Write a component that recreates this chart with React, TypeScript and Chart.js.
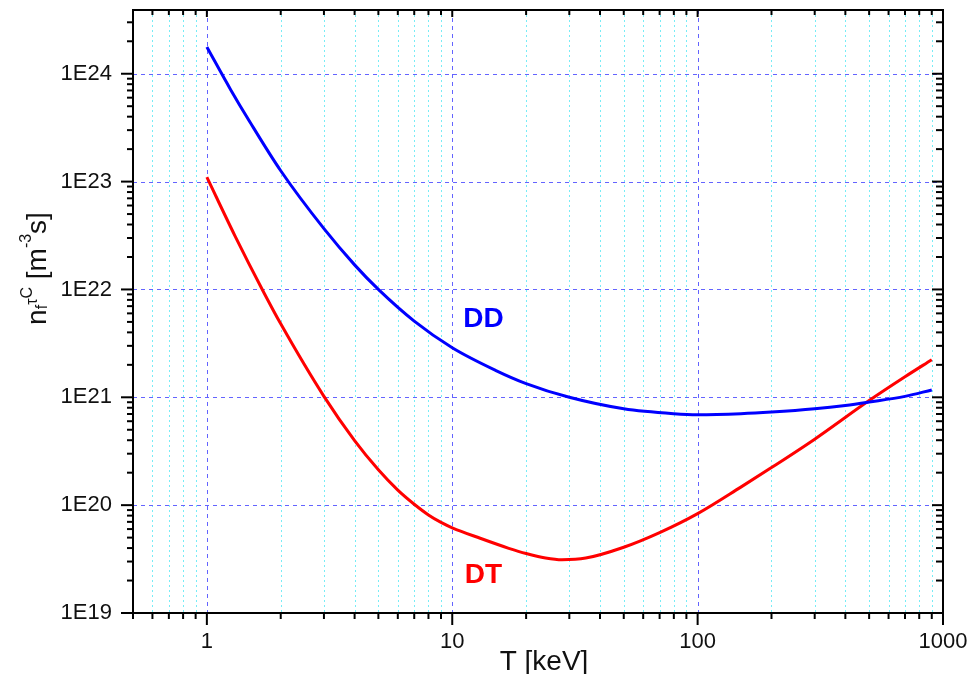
import { useEffect, useRef } from "react";
import { Chart, registerables } from "chart.js";

Chart.register(...registerables);

// ---- data ----
const DD_T = [1, 1.25, 1.5, 2, 3, 4, 5, 7, 10, 15, 20, 30, 50, 80, 100, 150, 200, 300, 400, 500, 700, 900];
const DD_NTAU = [
  1.77e24, 7.12e23, 3.55e23, 1.26e23, 3.66e22, 1.69e22, 1.0e22, 5.08e21, 2.88e21, 1.78e21,
  1.34e21, 1.0e21, 7.83e20, 7.05e20, 6.9e20, 7.05e20, 7.3e20, 7.83e20, 8.41e20, 9.04e20,
  1.02e21, 1.17e21,
];
const DT_T = [1, 1.3, 1.7, 2, 3, 4, 5, 6, 7, 8, 9, 10, 13, 17, 20, 24, 28, 35, 50, 70, 100, 150, 200, 300, 500, 700, 900];
const DT_NTAU = [
  1.1e23, 3.16e22, 9.53e21, 4.8e21, 1.02e21, 3.97e20, 2.13e20, 1.38e20, 1.02e20, 8.12e19,
  6.92e19, 6.17e19, 4.93e19, 3.98e19, 3.56e19, 3.24e19, 3.12e19, 3.23e19, 4.07e19, 5.56e19,
  8.34e19, 1.47e20, 2.23e20, 4.09e20, 9.33e20, 1.55e21, 2.23e21,
];

const X_MIN = 0.5;
const X_MAX = 1000;
const Y_MIN = 1e19;
const Y_MAX = 3.9e24;
const X_TICKS = [1, 10, 100, 1000];
const X_TICK_LABELS = ["1", "10", "100", "1000"];
const Y_TICKS = [1e19, 1e20, 1e21, 1e22, 1e23, 1e24];
const Y_TICK_LABELS = ["1E19", "1E20", "1E21", "1E22", "1E23", "1E24"];

const CURVE_LABELS = [
  { text: "DD", x: 13.4, y: 5.27e21, color: "#0000ff" },
  { text: "DT", x: 13.4, y: 2.23e19, color: "#ff0000" },
];

const X_TITLE = "T [keV]";
const Y_TITLE_PARTS = [
  { t: "n", size: 28, dy: 0 },
  { t: "f", size: 16, dy: 1 },
  { t: "τ", size: 16, dy: -9 },
  { t: "C", size: 16, dy: -14 },
  { t: " [m", size: 28, dy: 0 },
  { t: "-3", size: 16, dy: -15 },
  { t: "s]", size: 28, dy: 0 },
];

const FONT = '"Liberation Sans", Arial, Helvetica, sans-serif';
const TEXT_COLOR = "#111111";
const MAJOR_GRID = "rgb(100,100,255)";
const MINOR_GRID = "rgb(120,236,246)";

function logValues(min: number, max: number) {
  const out: { v: number; major: boolean }[] = [];
  const e0 = Math.floor(Math.log10(min));
  const e1 = Math.ceil(Math.log10(max));
  for (let e = e0; e <= e1; e++) {
    for (let m = 1; m < 10; m++) {
      const v = m * Math.pow(10, e);
      if (v >= min * 0.9999 && v <= max * 1.0001) out.push({ v, major: m === 1 });
    }
  }
  return out;
}

function findIdx(arr: number[], v: number) {
  return arr.findIndex((a) => Math.abs(a - v) / a < 1e-6);
}

const framePlugin = {
  id: "originFrame",
  beforeDatasetsDraw(chart: any) {
    const { ctx, chartArea: a, scales } = chart;
    const x = scales.x;
    const y = scales.y;
    ctx.save();
    ctx.lineWidth = 1;
    ctx.strokeStyle = MINOR_GRID;
    ctx.setLineDash([2, 3]);
    for (const t of logValues(X_MIN, X_MAX)) {
      if (t.major) continue;
      const px = Math.round(x.getPixelForValue(t.v)) + 0.5;
      if (px <= a.left + 2 || px >= a.right - 2) continue;
      ctx.beginPath();
      ctx.moveTo(px, a.top);
      ctx.lineTo(px, a.bottom);
      ctx.stroke();
    }
    ctx.strokeStyle = MAJOR_GRID;
    ctx.setLineDash([4, 4]);
    for (const v of X_TICKS) {
      const px = Math.round(x.getPixelForValue(v)) + 0.5;
      if (px <= a.left + 2 || px >= a.right - 2) continue;
      ctx.beginPath();
      ctx.moveTo(px, a.top);
      ctx.lineTo(px, a.bottom);
      ctx.stroke();
    }
    for (const v of Y_TICKS) {
      const py = Math.round(y.getPixelForValue(v)) + 0.5;
      if (py <= a.top + 2 || py >= a.bottom - 2) continue;
      ctx.beginPath();
      ctx.moveTo(a.left, py);
      ctx.lineTo(a.right, py);
      ctx.stroke();
    }
    ctx.restore();
  },
  afterDatasetsDraw(chart: any) {
    const { ctx, chartArea: a, scales } = chart;
    const x = scales.x;
    const y = scales.y;
    ctx.save();
    ctx.setLineDash([]);
    ctx.strokeStyle = "#000000";
    ctx.lineWidth = 2;
    ctx.strokeRect(a.left, a.top, a.right - a.left, a.bottom - a.top);
    const seg = (x1: number, y1: number, x2: number, y2: number) => {
      ctx.beginPath();
      ctx.moveTo(x1, y1);
      ctx.lineTo(x2, y2);
      ctx.stroke();
    };
    for (const t of logValues(X_MIN, X_MAX)) {
      const px = x.getPixelForValue(t.v);
      seg(px, a.bottom, px, a.bottom + (t.major ? 12 : 6));
      seg(px, a.top, px, a.top + (t.major ? 7 : 5));
    }
    for (const t of logValues(Y_MIN, Y_MAX)) {
      const py = y.getPixelForValue(t.v);
      seg(a.left, py, a.left - (t.major ? 12 : 6), py);
      seg(a.right, py, a.right - (t.major ? 11 : 7), py);
    }
    ctx.restore();
  },
  afterDraw(chart: any) {
    const { ctx, chartArea: a, scales } = chart;
    const x = scales.x;
    const y = scales.y;
    ctx.save();
    ctx.textAlign = "center";
    ctx.textBaseline = "middle";
    ctx.font = `bold 28px ${FONT}`;
    for (const l of CURVE_LABELS) {
      ctx.fillStyle = l.color;
      ctx.fillText(l.text, x.getPixelForValue(l.x), y.getPixelForValue(l.y));
    }
    ctx.fillStyle = TEXT_COLOR;
    ctx.textBaseline = "alphabetic";
    ctx.font = `28px ${FONT}`;
    ctx.fillText(X_TITLE, (a.left + a.right) / 2 + 6, a.bottom + 57);
    let total = 0;
    for (const p of Y_TITLE_PARTS) {
      ctx.font = `${p.size}px ${FONT}`;
      total += ctx.measureText(p.t).width;
    }
    ctx.translate(45.5, a.top + 258.5);
    ctx.rotate(-Math.PI / 2);
    ctx.textAlign = "left";
    let cx = -total / 2;
    for (const p of Y_TITLE_PARTS) {
      ctx.font = `${p.size}px ${FONT}`;
      ctx.fillText(p.t, cx, p.dy);
      cx += ctx.measureText(p.t).width;
    }
    ctx.restore();
  },
};

export default function App() {
  const ref = useRef<HTMLCanvasElement | null>(null);
  useEffect(() => {
    if (!ref.current) return;
    const chart = new Chart(ref.current, {
      type: "line",
      data: {
        datasets: [
          {
            label: "DD",
            data: DD_T.map((t, i) => ({ x: t, y: DD_NTAU[i] })),
            borderColor: "#0000ff",
            borderWidth: 3,
            pointRadius: 0,
            fill: false,
            cubicInterpolationMode: "monotone",
          },
          {
            label: "DT",
            data: DT_T.map((t, i) => ({ x: t, y: DT_NTAU[i] })),
            borderColor: "#ff0000",
            borderWidth: 3,
            pointRadius: 0,
            fill: false,
            cubicInterpolationMode: "monotone",
          },
        ],
      },
      options: {
        animation: false,
        responsive: true,
        maintainAspectRatio: false,
        layout: { padding: { top: 10, right: 37, left: 0, bottom: 0 } },
        plugins: { legend: { display: false }, tooltip: { enabled: false } },
        scales: {
          x: {
            type: "logarithmic",
            min: X_MIN,
            max: X_MAX,
            grid: { display: false, drawTicks: false, tickLength: 0 },
            border: { display: false },
            afterBuildTicks: (s: any) => {
              s.ticks = X_TICKS.map((v) => ({ value: v }));
            },
            afterFit: (s: any) => {
              s.height = 61;
              s.paddingLeft = 0;
              s.paddingRight = 0;
            },
            ticks: {
              autoSkip: false,
              maxRotation: 0,
              padding: 16,
              color: TEXT_COLOR,
              font: { family: FONT, size: 22 },
              callback: (v: any) => {
                const i = findIdx(X_TICKS, Number(v));
                return i >= 0 ? X_TICK_LABELS[i] : "";
              },
            },
          },
          y: {
            type: "logarithmic",
            min: Y_MIN,
            max: Y_MAX,
            grid: { display: false, drawTicks: false, tickLength: 0 },
            border: { display: false },
            afterBuildTicks: (s: any) => {
              s.ticks = Y_TICKS.map((v) => ({ value: v }));
            },
            afterFit: (s: any) => {
              s.width = 133;
              s.paddingTop = 0;
              s.paddingBottom = 0;
            },
            ticks: {
              autoSkip: false,
              padding: 21,
              color: TEXT_COLOR,
              font: { family: FONT, size: 22 },
              callback: (v: any) => {
                const i = findIdx(Y_TICKS, Number(v));
                return i >= 0 ? Y_TICK_LABELS[i] : "";
              },
            },
          },
        },
      },
      plugins: [framePlugin],
    } as any);
    return () => chart.destroy();
  }, []);
  return (
    <div style={{ position: "absolute", left: 0, top: 0, width: 980, height: 674, background: "#ffffff" }}>
      <canvas ref={ref} />
    </div>
  );
}
